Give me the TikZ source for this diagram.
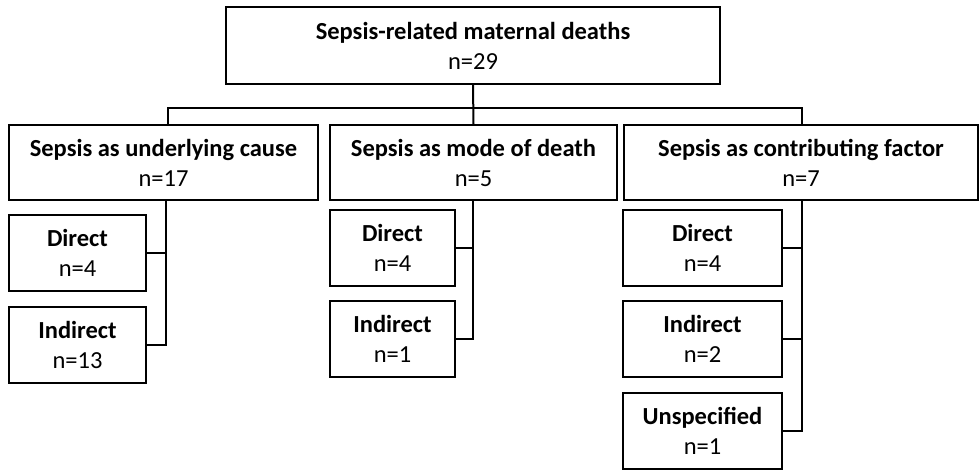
\documentclass[tikz,border=0pt]{standalone}
\usepackage{fontspec}
\setmainfont{Carlito}
\begin{document}
\begin{tikzpicture}[x=1pt,y=-1pt,
  box/.style={draw=black,line width=1.6pt,rectangle,inner sep=0pt,align=center,
    minimum height=76pt,font=\fontsize{24.5}{30}\selectfont},
  conn/.style={draw=black,line width=2pt}]
\useasboundingbox (0,0) rectangle (980,471);
% top
\node[box,minimum width=494pt,minimum height=77pt] (top) at (473,45.5) {\textbf{Sepsis-related maternal deaths}\\n=29};
% level 1
\node[box,minimum width=309pt,minimum height=75pt] (l1a) at (163.5,162.5) {\textbf{Sepsis as underlying cause}\\n=17};
\node[box,minimum width=287pt,minimum height=75pt] (l1b) at (473.5,162.5) {\textbf{Sepsis as mode of death}\\n=5};
\node[box,minimum width=354pt,minimum height=75pt] (l1c) at (801,162.5) {\textbf{Sepsis as contributing factor}\\n=7};
% level 2 under a
\node[box,minimum width=137pt] (da) at (77.5,253) {\textbf{Direct}\\n=4};
\node[box,minimum width=137pt] (ia) at (77.5,345) {\textbf{Indirect}\\n=13};
% level 2 under b
\node[box,minimum width=125pt] (db) at (392.5,248) {\textbf{Direct}\\n=4};
\node[box,minimum width=125pt] (ib) at (392.5,339) {\textbf{Indirect}\\n=1};
% level 2 under c
\node[box,minimum width=159pt] (dc) at (702.5,248) {\textbf{Direct}\\n=4};
\node[box,minimum width=159pt] (ic) at (702.5,339) {\textbf{Indirect}\\n=2};
\node[box,minimum width=159pt] (uc) at (702.5,431) {\textbf{Unspecified}\\n=1};
% connectors level 0-1
\coordinate (bus) at (473,108);
\draw[conn] (top.south) -- (l1b.north);
\draw[conn] ([xshift=4.5pt]l1a.north) |- (bus) -| ([xshift=1pt]l1c.north);
% connectors a
\draw[conn] ([xshift=2.5pt]l1a.south) |- (ia.east);
\draw[conn] (da.east) -| ([xshift=2.5pt]l1a.south);
% connectors b
\draw[conn] ([xshift=-0.5pt]l1b.south) |- (ib.east);
\draw[conn] (db.east) -| ([xshift=-0.5pt]l1b.south);
% connectors c
\draw[conn] ([xshift=1pt]l1c.south) |- (uc.east);
\draw[conn] (dc.east) -| ([xshift=1pt]l1c.south);
\draw[conn] (ic.east) -| ([xshift=1pt]l1c.south);
\end{tikzpicture}
\end{document}
